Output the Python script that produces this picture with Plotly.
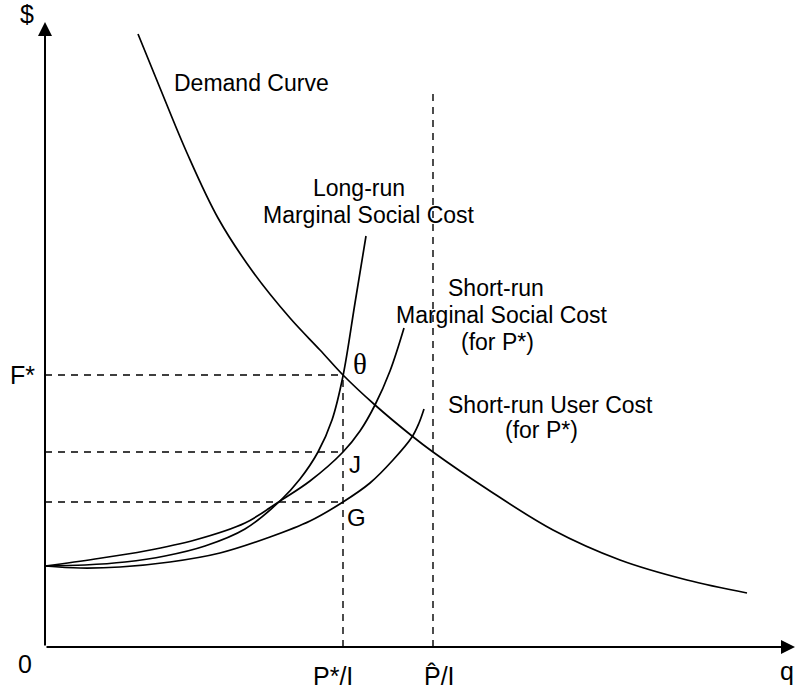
import plotly.graph_objects as go

# ---- data (chart units: q horizontal, $ vertical) ----
demand_q = [93, 115, 142, 173, 208, 245, 275, 298, 330, 367, 388, 442, 508, 575, 642, 702]
demand_p = [613, 559, 494, 429, 375, 329, 297, 272, 242, 211, 195, 158, 117, 87, 67, 54]

lr_msc_q = [0, 40, 80, 120, 160, 200, 235, 255, 273, 287, 298, 310, 321]
lr_msc_p = [81, 82, 85, 91, 101, 118, 146, 168, 195, 227, 271, 344, 411]

sr_msc_q = [0, 50, 100, 150, 200, 235, 265, 298, 315, 330, 345, 359]
sr_msc_p = [81, 88, 96, 107, 124, 146, 166, 195, 216, 242, 276, 319]

uc_q = [0, 35, 75, 125, 175, 225, 265, 298, 325, 348, 367, 374, 379]
uc_p = [81, 79, 80, 85, 94, 110, 126, 145, 164, 187, 210, 224, 238]

F_star = 272      # price level at theta
J_level = 195
G_level = 145
P_star_q = 298    # P*/I
P_hat_q = 388     # P-hat/I
P_hat_top = 557
x_axis_end = 750
y_axis_end = 625

SANS = "Liberation Sans, Arial, sans-serif"
SERIF = "Liberation Serif, Times New Roman, serif"
BLACK = "#000000"

fig = go.Figure()

curve_line = dict(color=BLACK, width=1.7, shape="spline", smoothing=1.0)
for qs, ps in [(demand_q, demand_p), (lr_msc_q, lr_msc_p), (sr_msc_q, sr_msc_p), (uc_q, uc_p)]:
    fig.add_trace(go.Scatter(x=qs, y=ps, mode="lines", line=curve_line,
                             hoverinfo="skip", showlegend=False))

dash_line = dict(color=BLACK, width=1.4, dash="7px,6px")
dashed = [
    ([0, P_star_q], [F_star, F_star]),
    ([0, P_star_q], [J_level, J_level]),
    ([0, P_star_q], [G_level, G_level]),
    ([P_star_q, P_star_q], [0, F_star]),
    ([P_hat_q, P_hat_q], [0, P_hat_top]),
]
for xs, ys in dashed:
    fig.add_trace(go.Scatter(x=xs, y=ys, mode="lines", line=dash_line,
                             hoverinfo="skip", showlegend=False))

annotations = []
# axes drawn as arrows
annotations.append(dict(x=0, y=y_axis_end, ax=0, ay=0, xref="x", yref="y", axref="x", ayref="y",
                        showarrow=True, arrowhead=2, arrowsize=1.4, arrowwidth=2, arrowcolor=BLACK,
                        text="", standoff=0, startstandoff=0))
annotations.append(dict(x=x_axis_end, y=0, ax=0, ay=0, xref="x", yref="y", axref="x", ayref="y",
                        showarrow=True, arrowhead=2, arrowsize=1.4, arrowwidth=2, arrowcolor=BLACK,
                        text="", standoff=0, startstandoff=0))


def label(text, x, y, size=23, family=SANS, xanchor="center"):
    annotations.append(dict(x=x, y=y, xref="x", yref="y", text=text, showarrow=False,
                            xanchor=xanchor, yanchor="middle",
                            font=dict(family=family, size=size, color=BLACK)))


label("$", -18, 633, size=25)
label("F*", -8, 272, size=25, xanchor="right")
label("0", -20, -17, size=25)
label("q", 742, -24, size=25)
label("P*/I", 288, -29, size=25)
label("P\u0302/I", 394, -29, size=25)
label("Demand Curve", 127, 564, xanchor="left")
label("Long-run", 314, 459)
label("Marginal Social Cost", 324, 432)
label("Short-run", 451, 359)
label("Marginal Social Cost", 457, 332)
label("(for P*)", 452, 305)
label("Short-run User Cost", 505, 242)
label("(for P*)", 496, 217)
label("\u03b8", 315, 283, size=29, family=SERIF)
label("J", 310, 183, size=24)
label("G", 311, 130, size=24)

fig.update_layout(
    width=796, height=692,
    margin=dict(l=0, r=0, t=0, b=0),
    paper_bgcolor="white", plot_bgcolor="white",
    xaxis=dict(range=[-45, 751], visible=False, fixedrange=True),
    yaxis=dict(range=[-45, 647], visible=False, fixedrange=True),
    annotations=annotations,
    showlegend=False,
)

# remove the default 8px page margin so the figure fills the window exactly
fig.write_html("out.html",
               config={"displayModeBar": False, "staticPlot": True},
               post_script="document.body.style.margin='0px';document.body.style.overflow='hidden';")
